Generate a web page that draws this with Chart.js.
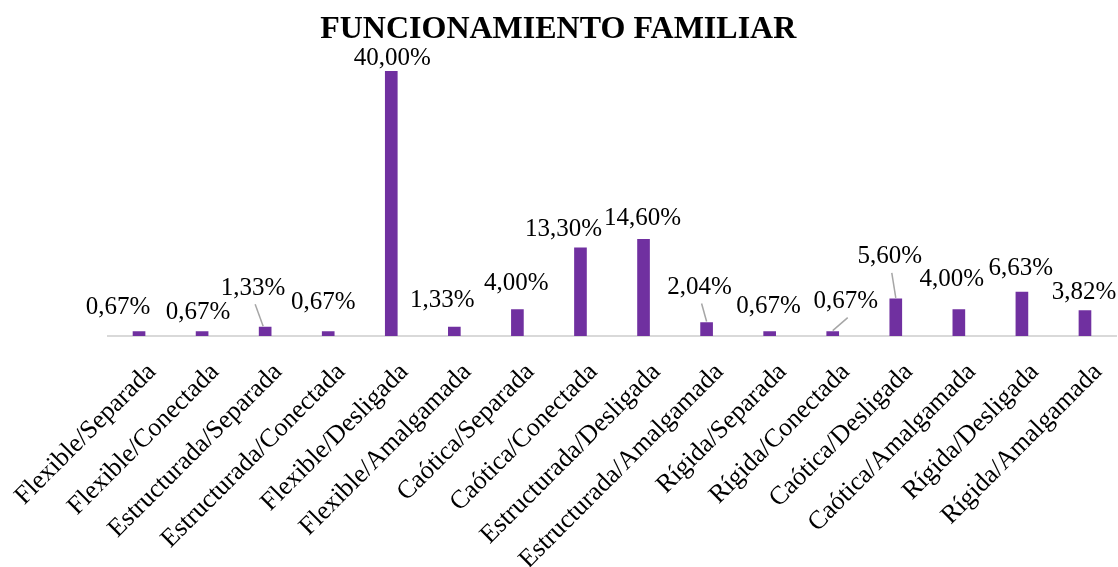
<!DOCTYPE html>
<html><head><meta charset="utf-8">
<script src="https://cdn.jsdelivr.net/npm/chart.js@4.4.1/dist/chart.umd.min.js"></script>
<style>html,body{margin:0;padding:0;background:#fff}canvas{display:block}</style>
</head><body>
<canvas id="c" width="1118" height="567"></canvas>
<script>
const chartTitle = 'FUNCIONAMIENTO FAMILIAR';
const categories = ['Flexible/Separada','Flexible/Conectada','Estructurada/Separada','Estructurada/Conectada','Flexible/Desligada','Flexible/Amalgamada','Caótica/Separada','Caótica/Conectada','Estructurada/Desligada','Estructurada/Amalgamada','Rígida/Separada','Rígida/Conectada','Caótica/Desligada','Caótica/Amalgamada','Rígida/Desligada','Rígida/Amalgamada'];
const values = [0.67, 0.67, 1.33, 0.67, 40.00, 1.33, 4.00, 13.30, 14.60, 2.04, 0.67, 0.67, 5.60, 4.00, 6.63, 3.82];

function fmt(v){ return v.toFixed(2).replace('.', ',') + '%'; }

// label placement relative to bar top: [dx, dy, leaderLine, leaderEndDx]
const labelOffsets = [
  [-21,-24,false],[-4,-19,false],[-12,-39,true,-2],[-5,-29,false],
  [1,-13,false],[-12,-27,false],[-1,-26,false],[-17,-18,false],
  [-1,-21,false],[-7,-35,true,0],[-1,-25,false],[13,-30,true,0],
  [-6,-42,true,0],[-7,-30,false],[-1,-24,false],[-1,-18,false]
];

const labelPlugin = {
  id: 'barLabels',
  afterDatasetsDraw(chart, args, opts) {
    const ctx = chart.ctx;
    const meta = chart.getDatasetMeta(0);
    ctx.save();
    ctx.font = '25px "Liberation Serif", "Times New Roman", serif';
    ctx.fillStyle = '#000';
    ctx.textAlign = 'center';
    ctx.textBaseline = 'middle';
    meta.data.forEach((bar, i) => {
      const o = opts.offsets[i];
      const lx = bar.x + o[0], ly = bar.y + o[1];
      if (o[2]) {
        ctx.strokeStyle = '#a6a6a6';
        ctx.lineWidth = 1.5;
        ctx.beginPath();
        ctx.moveTo(lx + 2, ly + 16);
        ctx.lineTo(bar.x + (o[3] || 0), bar.y - 1);
        ctx.stroke();
      }
      ctx.fillText(fmt(values[i]), lx, ly);
    });
    ctx.restore();
  }
};

new Chart(document.getElementById('c'), {
  type: 'bar',
  data: {
    labels: categories,
    datasets: [{
      data: values,
      backgroundColor: '#7030A0',
      borderWidth: 0,
      barThickness: 12
    }]
  },
  options: {
    responsive: false,
    animation: false,
    layout: { padding: { left: 0, right: 1.5, top: 0, bottom: 0 } },
    plugins: {
      legend: { display: false },
      tooltip: { enabled: false },
      title: {
        display: true,
        text: chartTitle,
        color: '#000',
        font: { family: '"Liberation Serif", "Times New Roman", serif', size: 32, weight: 'bold', lineHeight: 1.2 },
        padding: { top: 10.5, bottom: 22.1 }
      },
      barLabels: { offsets: labelOffsets }
    },
    scales: {
      y: {
        display: true,
        min: 0,
        max: 40,
        grid: { display: false, drawTicks: false },
        border: { display: false },
        ticks: { display: false },
        afterFit(scale) { scale.width = 107.5; }
      },
      x: {
        grid: { display: false, drawTicks: false },
        border: { display: true, color: '#d9d9d9', width: 2 },
        ticks: {
          color: '#000',
          autoSkip: false,
          maxRotation: 45,
          minRotation: 45,
          padding: 21,
          labelOffset: 13,
          font: { family: '"Liberation Serif", "Times New Roman", serif', size: 26 }
        },
        afterFit(scale) {
          scale.height = 231;
          scale.paddingLeft = 0;
          scale.paddingRight = 0;
        }
      }
    }
  },
  plugins: [labelPlugin]
});
</script>
</body></html>
